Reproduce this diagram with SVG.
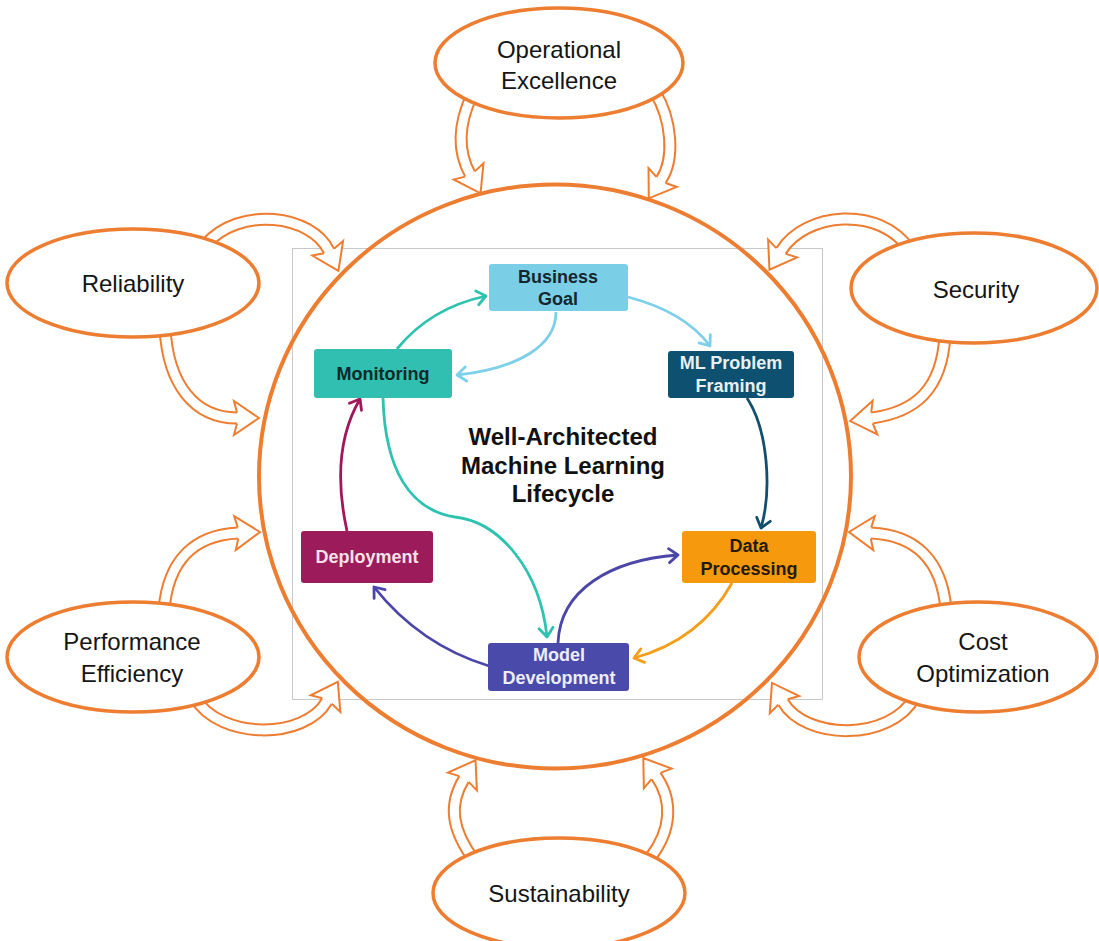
<svg xmlns="http://www.w3.org/2000/svg" width="1099" height="941" viewBox="0 0 1099 941">
<style>
.pillar{fill:#fff;stroke:#ED7D31;stroke-width:3.5}
.plabel{font-family:"Liberation Sans",Arial,sans-serif;font-size:24px;fill:#151515;text-anchor:middle}
.shaftO{fill:none;stroke:#ED7D31;stroke-width:13;stroke-linecap:butt;marker-end:url(#hd)}
.shaftI{fill:none;stroke:#fff;stroke-width:9;stroke-linecap:butt}
.box{stroke:none}
.blabel{font-family:"Liberation Sans",Arial,sans-serif;font-size:18px;font-weight:bold;text-anchor:middle}
.title{font-family:"Liberation Sans",Arial,sans-serif;font-size:24px;font-weight:bold;fill:#111;text-anchor:middle}
.flow{fill:none;stroke-width:2.8}
</style>
<defs>
<marker id="hd" markerUnits="userSpaceOnUse" orient="auto" viewBox="-5 -20 30 40" markerWidth="30" markerHeight="40" refX="0" refY="0">
<path d="M0,-5.5 L-3,-17 L22,0 L-3,17 L0,5.5" fill="#fff" stroke="#ED7D31" stroke-width="2" stroke-linejoin="miter"/>
</marker>
<marker id="m-teal" markerUnits="userSpaceOnUse" orient="auto" viewBox="-14 -10 18 20" markerWidth="18" markerHeight="20" refX="0" refY="0"><path d="M-9,-7 L0,0 L-9,7" fill="none" stroke="#2EC2B0" stroke-width="2.8" stroke-linecap="round" stroke-linejoin="round"/></marker>
<marker id="m-lblue" markerUnits="userSpaceOnUse" orient="auto" viewBox="-14 -10 18 20" markerWidth="18" markerHeight="20" refX="0" refY="0"><path d="M-9,-7 L0,0 L-9,7" fill="none" stroke="#7DCFEA" stroke-width="2.8" stroke-linecap="round" stroke-linejoin="round"/></marker>
<marker id="m-dblue" markerUnits="userSpaceOnUse" orient="auto" viewBox="-14 -10 18 20" markerWidth="18" markerHeight="20" refX="0" refY="0"><path d="M-9,-7 L0,0 L-9,7" fill="none" stroke="#124E6E" stroke-width="2.8" stroke-linecap="round" stroke-linejoin="round"/></marker>
<marker id="m-orange" markerUnits="userSpaceOnUse" orient="auto" viewBox="-14 -10 18 20" markerWidth="18" markerHeight="20" refX="0" refY="0"><path d="M-9,-7 L0,0 L-9,7" fill="none" stroke="#F59E1B" stroke-width="2.8" stroke-linecap="round" stroke-linejoin="round"/></marker>
<marker id="m-indigo" markerUnits="userSpaceOnUse" orient="auto" viewBox="-14 -10 18 20" markerWidth="18" markerHeight="20" refX="0" refY="0"><path d="M-9,-7 L0,0 L-9,7" fill="none" stroke="#4B46A8" stroke-width="2.8" stroke-linecap="round" stroke-linejoin="round"/></marker>
<marker id="m-magenta" markerUnits="userSpaceOnUse" orient="auto" viewBox="-14 -10 18 20" markerWidth="18" markerHeight="20" refX="0" refY="0"><path d="M-9,-7 L0,0 L-9,7" fill="none" stroke="#A0185A" stroke-width="2.8" stroke-linecap="round" stroke-linejoin="round"/></marker>
</defs>
<rect width="1099" height="941" fill="#fff"/>

<rect id="lifecycle-frame" x="292.5" y="248.5" width="530" height="451" fill="none" stroke="#C8C8C8" stroke-width="1"/>

<g id="lifecycle-connectors">
<path class="flow" stroke="#2EC2B0" marker-end="url(#m-teal)" d="M397,349 Q430,308 486,296"/>
<path class="flow" stroke="#7DCFEA" marker-end="url(#m-lblue)" d="M556,312 C556,345 520,368 457,375"/>
<path class="flow" stroke="#7DCFEA" marker-end="url(#m-lblue)" d="M628,297 Q685,312 710,346"/>
<path class="flow" stroke="#124E6E" marker-end="url(#m-dblue)" d="M747,398 C768,430 772,490 761,528"/>
<path class="flow" stroke="#F59E1B" marker-end="url(#m-orange)" d="M732,583 Q700,640 634,658"/>
<path class="flow" stroke="#4B46A8" marker-end="url(#m-indigo)" d="M558,643 C560,590 610,560 678,555"/>
<path class="flow" stroke="#4B46A8" marker-end="url(#m-indigo)" d="M489,666 Q420,645 374,587"/>
<path class="flow" stroke="#A0185A" marker-end="url(#m-magenta)" d="M347,531 C338,490 336,440 360,399"/>
<path class="flow" stroke="#2EC2B0" marker-end="url(#m-teal)" d="M383,398 C385,470 410,510 455,517 C500,522 540,570 547,637"/>
</g>

<g id="business-goal">
<rect class="box" x="489" y="264" width="139" height="47" rx="3" fill="#7ACFE6"/>
<text class="blabel" x="558" y="283" fill="#16262E">Business</text>
<text class="blabel" x="558" y="305" fill="#16262E">Goal</text>
</g>
<g id="ml-problem-framing">
<rect class="box" x="668" y="351" width="126" height="47" rx="3" fill="#0D5070"/>
<text class="blabel" x="731" y="369" fill="#E8F0F4">ML Problem</text>
<text class="blabel" x="731" y="392" fill="#E8F0F4">Framing</text>
</g>
<g id="data-processing">
<rect class="box" x="682" y="531" width="134" height="52" rx="3" fill="#F7990C"/>
<text class="blabel" x="749" y="552" fill="#231A0A">Data</text>
<text class="blabel" x="749" y="575" fill="#231A0A">Processing</text>
</g>
<g id="model-development">
<rect class="box" x="488" y="643" width="141" height="48" rx="3" fill="#4A4AAA"/>
<text class="blabel" x="559" y="661" fill="#EEEEF8">Model</text>
<text class="blabel" x="559" y="684" fill="#EEEEF8">Development</text>
</g>
<g id="deployment">
<rect class="box" x="301" y="531" width="132" height="52" rx="3" fill="#9C1B5B"/>
<text class="blabel" x="367" y="563" fill="#F3E2EA">Deployment</text>
</g>
<g id="monitoring">
<rect class="box" x="314" y="349" width="138" height="49" rx="3" fill="#30BFB1"/>
<text class="blabel" x="383" y="380" fill="#0F2A28">Monitoring</text>
</g>
<g id="title">
<text class="title" x="563" y="445">Well-Architected</text>
<text class="title" x="563" y="474">Machine Learning</text>
<text class="title" x="563" y="502">Lifecycle</text>
</g>

<g id="pillar-connectors">
<path class="shaftO" d="M472,95 C458,125 458,152 470,174"/>
<path class="shaftI" d="M472,95 C458,125 458,152 470,174"/>
<path class="shaftO" d="M655,92 C672,120 675,159 661,180"/>
<path class="shaftI" d="M655,92 C672,120 675,159 661,180"/>
<path class="shaftO" d="M205,245 C240,205 312,215 329,251"/>
<path class="shaftI" d="M205,245 C240,205 312,215 329,251"/>
<path class="shaftO" d="M165,328 C168,385 195,418 237,418"/>
<path class="shaftI" d="M165,328 C168,385 195,418 237,418"/>
<path class="shaftO" d="M910,250 C880,205 805,212 781,251"/>
<path class="shaftI" d="M910,250 C880,205 805,212 781,251"/>
<path class="shaftO" d="M945,335 C942,390 915,412 872,418"/>
<path class="shaftI" d="M945,335 C942,390 915,412 872,418"/>
<path class="shaftO" d="M164,610 C168,560 195,535 238,533"/>
<path class="shaftI" d="M164,610 C168,560 195,535 238,533"/>
<path class="shaftO" d="M195,698 C220,740 305,740 327,701"/>
<path class="shaftI" d="M195,698 C220,740 305,740 327,701"/>
<path class="shaftO" d="M946,610 C942,560 915,535 871,533"/>
<path class="shaftI" d="M946,610 C942,560 915,535 871,533"/>
<path class="shaftO" d="M915,697 C890,742 805,740 783,702"/>
<path class="shaftI" d="M915,697 C890,742 805,740 783,702"/>
<path class="shaftO" d="M474,860 C452,830 448,805 464,779"/>
<path class="shaftI" d="M474,860 C452,830 448,805 464,779"/>
<path class="shaftO" d="M650,858 C672,830 673,800 656,776"/>
<path class="shaftI" d="M650,858 C672,830 673,800 656,776"/>
</g>

<ellipse id="lifecycle-circle" cx="555" cy="476.5" rx="296" ry="292" fill="none" stroke="#ED7D31" stroke-width="4"/>

<g id="operational-excellence">
<ellipse class="pillar" cx="559" cy="63" rx="124" ry="55"/>
<text class="plabel" x="559" y="58">Operational</text>
<text class="plabel" x="559" y="89">Excellence</text>
</g>
<g id="reliability">
<ellipse class="pillar" cx="133" cy="283" rx="126" ry="54"/>
<text class="plabel" x="133" y="292">Reliability</text>
</g>
<g id="security">
<ellipse class="pillar" cx="974" cy="288" rx="123" ry="55"/>
<text class="plabel" x="976" y="298">Security</text>
</g>
<g id="performance-efficiency">
<ellipse class="pillar" cx="133" cy="657" rx="126" ry="55"/>
<text class="plabel" x="132" y="650">Performance</text>
<text class="plabel" x="132" y="682">Efficiency</text>
</g>
<g id="cost-optimization">
<ellipse class="pillar" cx="978" cy="657" rx="119" ry="55"/>
<text class="plabel" x="983" y="650">Cost</text>
<text class="plabel" x="983" y="682">Optimization</text>
</g>
<g id="sustainability">
<ellipse class="pillar" cx="559" cy="893" rx="126" ry="55"/>
<text class="plabel" x="559" y="902">Sustainability</text>
</g>
</svg>
